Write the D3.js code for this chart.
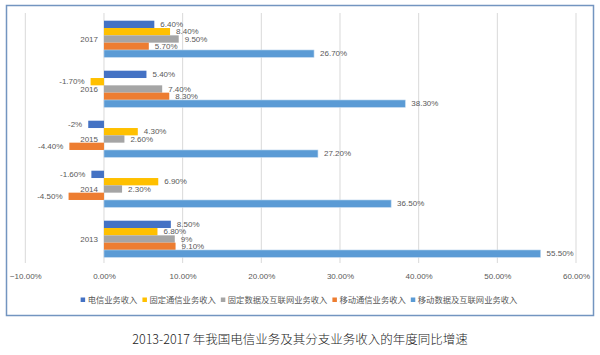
<!DOCTYPE html>
<html><head><meta charset="utf-8">
<script src="https://cdn.jsdelivr.net/npm/d3@7"></script>
<style>
html,body{margin:0;padding:0;background:#fff;}
svg{display:block;}
</style></head>
<body>
<svg id="chart" width="600" height="355"></svg>
<script>
const years = ["2017","2016","2015","2014","2013"];
const seriesNames = ["电信业务收入","固定通信业务收入","固定数据及互联网业务收入","移动通信业务收入","移动数据及互联网业务收入"];
const seriesColors = ["#4472C4","#FFC000","#A5A5A5","#ED7D31","#5B9BD5"];
// values per series, in order of years (2017..2013)
const telecom   = [6.4, 5.4, -2, -1.6, 8.5];
const fixedComm = [8.4, -1.7, 4.3, 6.9, 6.8];
const fixedData = [9.5, 7.4, 2.6, 2.3, 9];
const mobileComm= [5.7, 8.3, -4.4, -4.5, 9.1];
const mobileData= [26.7, 38.3, 27.2, 36.5, 55.5];
const telecomLbl   = ["6.40%","5.40%","-2%","-1.60%","8.50%"];
const fixedCommLbl = ["8.40%","-1.70%","4.30%","6.90%","6.80%"];
const fixedDataLbl = ["9.50%","7.40%","2.60%","2.30%","9%"];
const mobileCommLbl= ["5.70%","8.30%","-4.40%","-4.50%","9.10%"];
const mobileDataLbl= ["26.70%","38.30%","27.20%","36.50%","55.50%"];
const xTicks = [-10,0,10,20,30,40,50,60];
const title = "2013-2017 年我国电信业务及其分支业务收入的年度同比增速";

const allVals = [telecom, fixedComm, fixedData, mobileComm, mobileData];
const allLbls = [telecomLbl, fixedCommLbl, fixedDataLbl, mobileCommLbl, mobileDataLbl];

const svg = d3.select("#chart");
const grey = "#595959";
const lblFont = "'Liberation Sans', Arial, sans-serif";
const cjkFont = "'Noto Sans CJK SC', sans-serif";

// frame
svg.append("rect").attr("x",6.5).attr("y",5.5).attr("width",587).attr("height",310)
  .attr("fill","#fff").attr("stroke","#7395c0").attr("stroke-width",1.5);

const x = d3.scaleLinear().domain([-10,60]).range([25.3,576]);
const y0 = d3.scaleBand().domain(years).range([14,264]).paddingInner(0.268).paddingOuter(0.134);
const y1 = d3.scaleBand().domain(seriesNames).range([0,y0.bandwidth()]);

// gridlines
svg.append("g").selectAll("line").data(xTicks).join("line")
  .attr("x1",d=>x(d)).attr("x2",d=>x(d)).attr("y1",13).attr("y2",263)
  .attr("stroke","#d9d9d9").attr("stroke-width",1);

// tick labels via axis
const axis = d3.axisBottom(x).tickValues(xTicks).tickFormat(d=>d3.format(".2f")(d)+"%").tickSize(0).tickPadding(0);
const ag = svg.append("g").attr("transform","translate(0,273)").call(axis);
ag.select(".domain").remove();
ag.selectAll("text").attr("fill",grey).attr("font-family",lblFont).attr("font-size","8px");

// bars
const groups = svg.append("g").selectAll("g").data(years).join("g")
  .attr("transform",d=>`translate(0,${y0(d)})`);
seriesNames.forEach((s,si)=>{
  const data = years.map((yr,i)=>({yr, v: allVals[si][i], l: allLbls[si][i]}));
  groups.each(function(d,gi){
    const item = data[gi];
    const g = d3.select(this);
    g.append("rect")
      .attr("x", x(Math.min(0,item.v)))
      .attr("width", Math.abs(x(item.v)-x(0)))
      .attr("y", y1(s)).attr("height", y1.bandwidth())
      .attr("fill", seriesColors[si])
      .attr("stroke", si===4 ? "#bcd6ee" : "none").attr("stroke-width",0.6);
    g.append("text")
      .attr("x", item.v>=0 ? x(item.v)+6 : x(item.v)-6)
      .attr("y", y1(s)+y1.bandwidth()/2)
      .attr("dy","0.35em")
      .attr("text-anchor", item.v>=0 ? "start":"end")
      .attr("fill",grey).attr("font-family",lblFont).attr("font-size","8px")
      .text(item.l);
  });
});

// year labels
svg.append("g").selectAll("text").data(years).join("text")
  .attr("x",98).attr("y",d=>y0(d)+y0.bandwidth()/2).attr("dy","0.35em")
  .attr("text-anchor","end").attr("fill",grey).attr("font-family",lblFont).attr("font-size","8px")
  .text(d=>d);

// legend
const lg = svg.append("g");
let lx = 0;
seriesNames.forEach((s,i)=>{
  const g = lg.append("g");
  g.append("rect").attr("x",lx).attr("y",-2.5).attr("width",4.5).attr("height",4.5).attr("fill",seriesColors[i]);
  const t = g.append("text").attr("x",lx+7).attr("y",0).attr("dy","0.35em")
    .attr("fill",grey).attr("font-family",cjkFont).attr("font-size","8.3px").text(s);
  lx += 7 + t.node().getComputedTextLength() + 5;
});
const lw = lx - 5;
lg.attr("transform",`translate(${299 - lw/2},300)`);

// title
svg.append("text").attr("x",300).attr("y",344).attr("text-anchor","middle")
  .attr("font-family",cjkFont).attr("font-size","12.5px").attr("font-weight",300).attr("fill","#222").text(title);
</script>
</body></html>
